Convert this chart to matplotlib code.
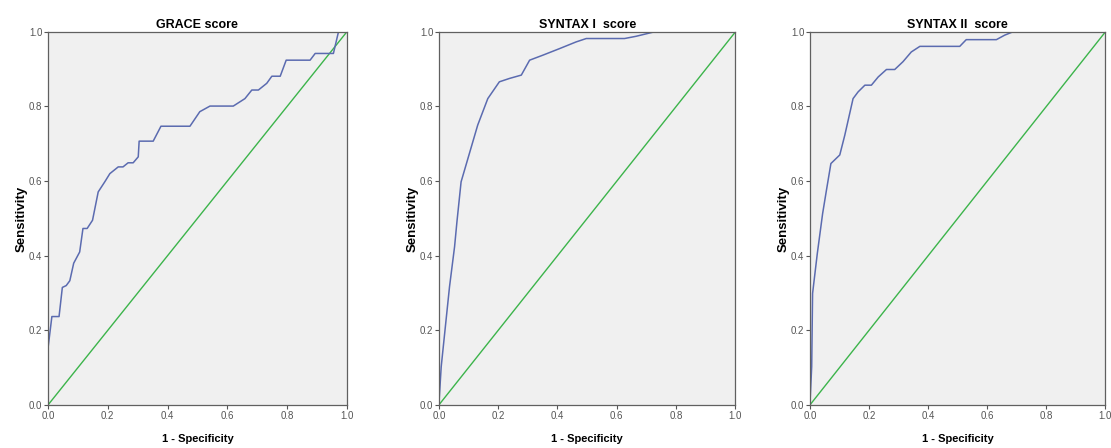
import matplotlib
matplotlib.use('Agg')
import matplotlib.pyplot as plt

plt.rcParams['font.family'] = ['Liberation Sans Narrow', 'Liberation Sans', 'DejaVu Sans']

# ROC curve points
grace_fpr = [0.0, 0.0, 0.013, 0.037, 0.048, 0.061, 0.073, 0.086, 0.106, 0.117, 0.131, 0.149,
             0.168, 0.19, 0.207, 0.235, 0.251, 0.268, 0.285, 0.302, 0.305, 0.352, 0.378, 0.475,
             0.508, 0.542, 0.62, 0.659, 0.682, 0.704, 0.732, 0.749, 0.777, 0.797, 0.877, 0.894,
             0.955, 0.972, 1.0]
grace_tpr = [0.0, 0.152, 0.237, 0.237, 0.315, 0.32, 0.333, 0.38, 0.41, 0.473, 0.473, 0.495,
             0.571, 0.598, 0.62, 0.638, 0.638, 0.649, 0.649, 0.665, 0.707, 0.707, 0.747, 0.747,
             0.786, 0.801, 0.801, 0.821, 0.844, 0.844, 0.862, 0.881, 0.881, 0.924, 0.924, 0.942,
             0.942, 1.0, 1.0]

syn1_fpr = [0.0, 0.008, 0.036, 0.053, 0.061, 0.075, 0.103, 0.131, 0.165, 0.204, 0.238, 0.278,
            0.306, 0.351, 0.407, 0.463, 0.497, 0.626, 0.665, 0.727, 1.0]
syn1_tpr = [0.0, 0.103, 0.317, 0.424, 0.491, 0.598, 0.674, 0.75, 0.821, 0.866, 0.875, 0.884,
            0.924, 0.9375, 0.955, 0.973, 0.982, 0.982, 0.988, 1.0, 1.0]

syn2_fpr = [0.0, 0.006, 0.009, 0.025, 0.043, 0.056, 0.071, 0.101, 0.118, 0.146, 0.163, 0.186,
            0.208, 0.231, 0.259, 0.287, 0.315, 0.343, 0.372, 0.507, 0.529, 0.631, 0.659, 0.687, 1.0]
syn2_tpr = [0.0, 0.103, 0.299, 0.406, 0.513, 0.576, 0.647, 0.67, 0.723, 0.821, 0.839, 0.857,
            0.857, 0.879, 0.899, 0.899, 0.92, 0.946, 0.961, 0.961, 0.979, 0.979, 0.991, 1.0, 1.0]

titles = ['GRACE score', 'SYNTAX I  score', 'SYNTAX II  score']
curves = [(grace_fpr, grace_tpr), (syn1_fpr, syn1_tpr), (syn2_fpr, syn2_tpr)]
ticks = [0.0, 0.2, 0.4, 0.6, 0.8, 1.0]

fig = plt.figure(figsize=(11.11, 4.48), dpi=100)
lefts = [0.0432, 0.395, 0.729]
widths = [0.269, 0.267, 0.266]

for i in range(3):
    ax = fig.add_axes([lefts[i], 0.096, widths[i], 0.833])
    ax.set_facecolor('#f0f0f0')
    ax.plot([0, 1], [0, 1], color='#3cb44b', lw=1.0)
    ax.plot(curves[i][0], curves[i][1], color='#5b6bb0', lw=1.1)
    ax.set_xlim(0, 1)
    ax.set_ylim(0, 1)
    ax.set_xticks(ticks)
    ax.set_yticks(ticks)
    ax.set_xticklabels(['{:.1f}'.format(t) for t in ticks])
    ax.set_yticklabels(['{:.1f}'.format(t) for t in ticks])
    ax.tick_params(labelsize=7, colors='#555555', length=3, width=0.8, pad=1)
    for s in ax.spines.values():
        s.set_color('#606060')
        s.set_linewidth(0.9)
    ax.set_title(titles[i], fontsize=9, fontweight='bold', pad=3)
    ax.set_xlabel('1 - Specificity', fontsize=8, fontweight='bold', labelpad=10)
    ax.set_ylabel('Sensitivity', fontsize=9.5, fontweight='bold', labelpad=1)

fig.savefig('out.png', dpi=100)
